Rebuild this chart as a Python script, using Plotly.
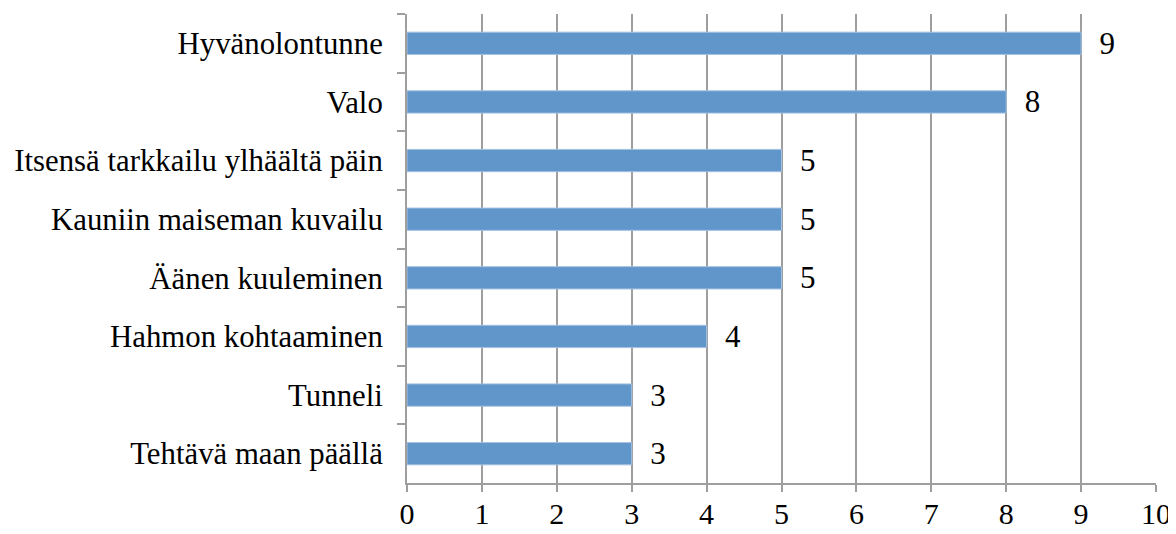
import plotly.graph_objects as go

categories = ["Hyvänolontunne", "Valo", "Itsensä tarkkailu ylhäältä päin",
              "Kauniin maiseman kuvailu", "Äänen kuuleminen", "Hahmon kohtaaminen",
              "Tunneli", "Tehtävä maan päällä"]
values = [9, 8, 5, 5, 5, 4, 3, 3]
x_ticks = list(range(0, 11))

GRAY = "#9e9e9e"
FONT = "Liberation Serif"

fig = go.Figure()
fig.add_trace(go.Bar(
    x=values, y=categories, orientation="h",
    marker=dict(color="#6096ca", line=dict(width=1, color="#a3c0e2")),
    width=0.38,
    text=[f"  {v}" for v in values], textposition="outside",
    textfont=dict(family=FONT, size=31, color="black"),
    outsidetextfont=dict(family=FONT, size=31, color="black"),
    constraintext="none",
    cliponaxis=False,
))

fig.update_layout(
    width=1168, height=526,
    margin=dict(l=399, r=20, t=6, b=51),
    paper_bgcolor="white", plot_bgcolor="white",
    showlegend=False,
    font=dict(family=FONT, size=31, color="black"),
    xaxis=dict(range=[0, 10], tickvals=x_ticks, showgrid=True, gridcolor=GRAY, gridwidth=2,
               showline=True, linecolor=GRAY, linewidth=2, ticks="outside", ticklen=7,
               tickcolor=GRAY, tickwidth=2, zeroline=False, automargin=False,
               ticklabelstandoff=-4,
               tickfont=dict(family=FONT, size=30)),
    yaxis=dict(autorange="reversed", showline=True, linecolor=GRAY, linewidth=2,
               ticks="outside", tickson="boundaries", ticklen=8, tickcolor=GRAY, tickwidth=2,
               showgrid=False, ticklabelstandoff=16, automargin=False,
               tickfont=dict(family=FONT, size=30.8)),
)

fig.write_html("out.html")
